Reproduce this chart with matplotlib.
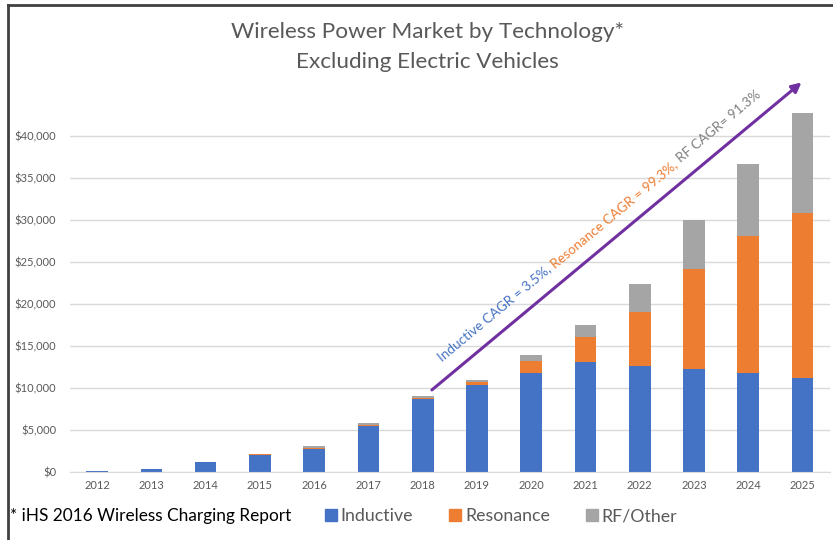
import matplotlib.pyplot as plt
import numpy as np
from matplotlib.lines import Line2D
from matplotlib.ticker import FuncFormatter
from matplotlib.transforms import IdentityTransform

plt.rcParams['font.family'] = ['Lato', 'DejaVu Sans']

years = ['2012', '2013', '2014', '2015', '2016', '2017', '2018',
         '2019', '2020', '2021', '2022', '2023', '2024', '2025']
inductive = [60, 300, 1200, 1950, 2650, 5400, 8650,
             10270, 11750, 13010, 12540, 12220, 11750, 11150]
resonance = [0, 0, 0, 200, 120, 150, 150,
             360, 1450, 2990, 6460, 11950, 16310, 19680]
rf_other = [0, 0, 0, 0, 230, 200, 250,
            320, 690, 1500, 3340, 5830, 8610, 11910]
cagr_labels = ['Inductive CAGR = 3.5%,', 'Resonance CAGR = 99.3%,', 'RF CAGR= 91.3%']

blue = '#4472C4'
orange = '#ED7D31'
gray = '#A5A5A5'
txt = '#595959'

fig = plt.figure(figsize=(8.33, 5.4), dpi=100)
ax = fig.add_axes([0.084, 0.1265, 0.912, 0.70])

x = np.arange(len(years))
ind = np.array(inductive)
res = np.array(resonance)
rf = np.array(rf_other)
ax.bar(x, ind, width=0.4, color=blue, zorder=2)
ax.bar(x, res, width=0.4, bottom=ind, color=orange, zorder=2)
ax.bar(x, rf, width=0.4, bottom=ind + res, color=gray, zorder=2)

ax.set_xlim(-0.5, len(years) - 0.5)
ax.set_ylim(0, 45000)
ax.set_yticks(np.arange(0, 45000, 5000))
ax.yaxis.set_major_formatter(FuncFormatter(lambda v, p: '${:,.0f}'.format(v)))
ax.set_xticks(x)
ax.set_xticklabels(years)
ax.tick_params(axis='both', length=0, labelsize=8, labelcolor=txt)
ax.tick_params(axis='x', pad=6)
ax.tick_params(axis='y', pad=10)
ax.grid(axis='y', color='#D9D9D9', linewidth=1, zorder=0)
for s in ['top', 'right', 'left']:
    ax.spines[s].set_visible(False)
ax.spines['bottom'].set_color('#D9D9D9')

# growth arrow
ax.annotate('', xy=(13.02, 46550), xytext=(6.13, 9520),
            arrowprops=dict(arrowstyle='-|>', color='#7030A0', lw=2.2,
                            mutation_scale=14),
            annotation_clip=False)

# CAGR labels chained along the arrow direction
renderer = fig.canvas.get_renderer()


def text_width(s, fs):
    t = fig.text(0, 0, s, fontsize=fs)
    w = t.get_window_extent(renderer).width
    t.remove()
    return w


ang = np.deg2rad(39.7)
base_fs = 11
total = sum(text_width(s, base_fs) for s in cagr_labels)
total += 2 * (text_width('a a', base_fs) - text_width('aa', base_fs))
fs = base_fs * 412 / total
gap = text_width('a a', fs) - text_width('aa', fs)
px, py = ax.transData.transform((6.36, 13100))
for s, c in zip(cagr_labels, [blue, orange, '#7F7F7F']):
    fig.text(px, py, s, transform=IdentityTransform(), color=c, fontsize=fs,
             rotation=np.rad2deg(ang), rotation_mode='anchor',
             ha='left', va='baseline')
    step = text_width(s, fs) + gap
    px += step * np.cos(ang)
    py += step * np.sin(ang)

fig.text(0.513, 0.94, 'Wireless Power Market by Technology*', ha='center',
         va='center', fontsize=16.2, color=txt)
fig.text(0.513, 0.885, 'Excluding Electric Vehicles', ha='center',
         va='center', fontsize=16.2, color=txt)

fig.text(0.012, 0.044, '* iHS 2016 Wireless Charging Report', ha='left',
         va='center', fontsize=12.4, color='black')
handles = [Line2D([], [], marker='s', ls='', color=c, markersize=8.5)
           for c in (blue, orange, gray)]
fig.legend(handles, ['Inductive', 'Resonance', 'RF/Other'], loc='center left',
           bbox_to_anchor=(0.39, 0.044), ncol=3, frameon=False,
           fontsize=12.8, labelcolor=txt, handletextpad=0.2,
           columnspacing=2.0, handlelength=0.7, borderpad=0, borderaxespad=0)

# frame edges
fig.add_artist(Line2D([0.0096, 0.0096], [0, 0.991], color='#404040', lw=2))
fig.add_artist(Line2D([0.0096, 1], [0.991, 0.991], color='#404040', lw=2))

fig.savefig('out.png', dpi=100)
